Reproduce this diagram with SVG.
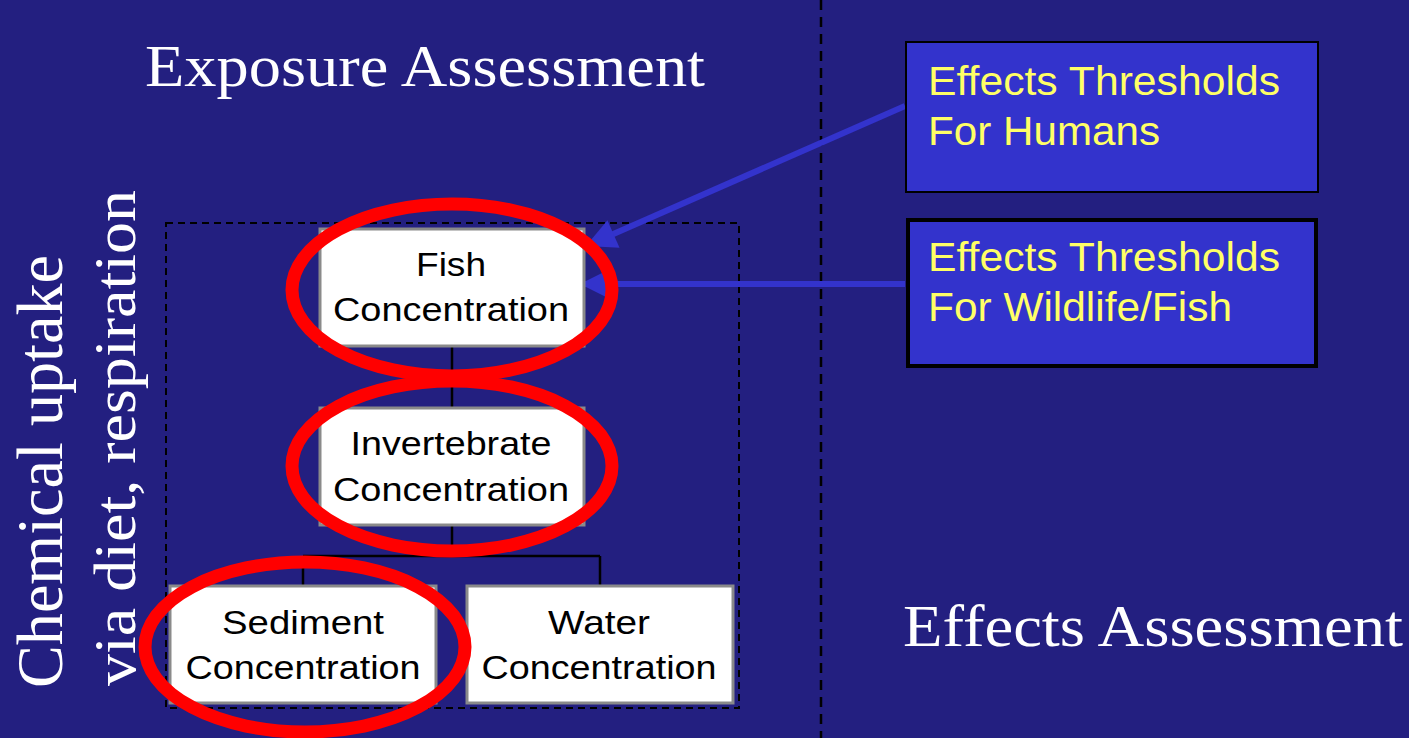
<svg xmlns="http://www.w3.org/2000/svg" width="1409" height="738" viewBox="0 0 1409 738">
<defs>
<style>
.node rect{fill:#fff;stroke:#8a8a8a;stroke-width:3}
.node text{font-family:"Liberation Sans",Arial,sans-serif;font-size:34px;fill:#000;text-anchor:middle}
.eff rect{fill:#3333CC;stroke:#000}
.eff text{font-family:"Liberation Sans",Arial,sans-serif;font-size:40px;fill:#FFFF66}
.title{font-family:"Liberation Serif","Times New Roman",serif;font-size:60px;fill:#fff}
.ring{fill:none;stroke:#FF0000;stroke-width:13}
.tree{stroke:#000;stroke-width:2.5;fill:none}
.arrow{stroke:#3333CC;stroke-width:6;fill:none}
</style>
<marker id="ah2" viewBox="0 0 10 10" refX="10" refY="5" markerWidth="36" markerHeight="30" markerUnits="userSpaceOnUse" orient="auto">
<path d="M0,0 L10,5 L0,10 z" fill="#3333CC"/>
</marker>
</defs>
<rect width="1409" height="738" fill="#231F80"/>
<line x1="821" y1="0" x2="821" y2="738" stroke="#000" stroke-width="2.5" stroke-dasharray="10,7"/>
<rect x="166" y="223" width="573" height="485" fill="none" stroke="#000" stroke-width="2" stroke-dasharray="7,5"/>
<text class="title" x="145" y="86" textLength="560" lengthAdjust="spacingAndGlyphs">Exposure Assessment</text>
<text class="title" x="903" y="646" textLength="500" lengthAdjust="spacingAndGlyphs">Effects Assessment</text>
<text class="title" transform="translate(62,688) rotate(-90)" style="font-size:65px" textLength="433" lengthAdjust="spacingAndGlyphs">Chemical uptake</text>
<text class="title" transform="translate(135,686) rotate(-90)" style="font-size:60px" textLength="496" lengthAdjust="spacingAndGlyphs">via diet, respiration</text>
<g id="connectors">
<path class="tree" d="M452,346 V408 M452,525 V556 M303,556 H600 M303,556 V586 M600,556 V586"/>
<line class="arrow" x1="905" y1="106" x2="586" y2="246" marker-end="url(#ah2)"/>
<line class="arrow" x1="905" y1="284" x2="580" y2="284" marker-end="url(#ah2)"/>
</g>
<g id="fish" class="node"><rect x="320" y="229" width="264" height="117"/><text x="451" y="276" textLength="70" lengthAdjust="spacingAndGlyphs">Fish</text><text x="451" y="321" textLength="236" lengthAdjust="spacingAndGlyphs">Concentration</text></g>
<g id="invertebrate" class="node"><rect x="320" y="408" width="264" height="117"/><text x="451" y="455" textLength="201" lengthAdjust="spacingAndGlyphs">Invertebrate</text><text x="451" y="501" textLength="236" lengthAdjust="spacingAndGlyphs">Concentration</text></g>
<g id="sediment" class="node"><rect x="170" y="586" width="266" height="117"/><text x="303" y="634" textLength="162" lengthAdjust="spacingAndGlyphs">Sediment</text><text x="303" y="679" textLength="235" lengthAdjust="spacingAndGlyphs">Concentration</text></g>
<g id="water" class="node"><rect x="467" y="586" width="266" height="117"/><text x="599" y="634" textLength="102" lengthAdjust="spacingAndGlyphs">Water</text><text x="599" y="679" textLength="235" lengthAdjust="spacingAndGlyphs">Concentration</text></g>
<g id="humans" class="eff"><rect x="906" y="42" width="412" height="150" stroke-width="2"/><text x="928" y="95" textLength="352" lengthAdjust="spacingAndGlyphs">Effects Thresholds</text><text x="928" y="145" textLength="232" lengthAdjust="spacingAndGlyphs">For Humans</text></g>
<g id="wildlife" class="eff"><rect x="908" y="220" width="408" height="146" stroke-width="4"/><text x="928" y="271" textLength="352" lengthAdjust="spacingAndGlyphs">Effects Thresholds</text><text x="928" y="321" textLength="304" lengthAdjust="spacingAndGlyphs">For Wildlife/Fish</text></g>
<g id="rings">
<ellipse class="ring" cx="452" cy="290" rx="160" ry="86"/>
<ellipse class="ring" cx="452" cy="466" rx="160" ry="85"/>
<ellipse class="ring" cx="305" cy="647" rx="160" ry="85"/>
</g>
</svg>
